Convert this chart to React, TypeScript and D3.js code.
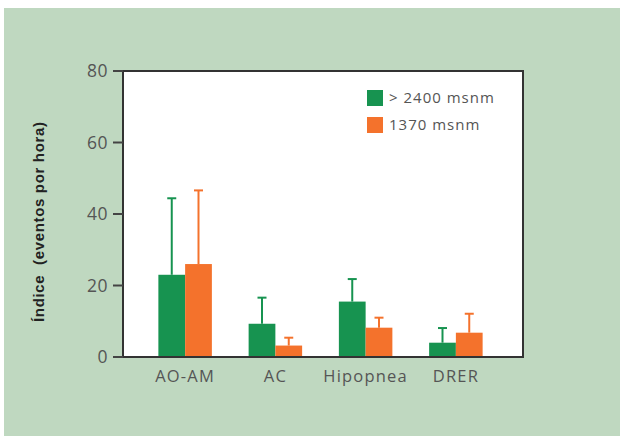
import React from "react";
import * as d3 from "d3";

const categories = ["AO-AM", "AC", "Hipopnea", "DRER"];
const series = ["> 2400 msnm", "1370 msnm"];
const colours = ["#179350", "#f4722c"];
const means = [
  [23, 9.3, 15.5, 4],
  [26, 3.2, 8.2, 6.8],
];
const upper = [
  [44.4, 16.6, 21.8, 8.1],
  [46.6, 5.4, 11.0, 12.1],
];
const yTicks = [0, 20, 40, 60, 80];

const W = 620;
const H = 436;
const plot = { left: 123, right: 523, top: 71, bottom: 357 };

export default function App() {
  const y = d3.scaleLinear().domain([0, 80]).range([plot.bottom, plot.top]);
  const x0 = d3.scaleBand().domain(categories).range([140, 501]).padding(0);
  const x1 = d3
    .scaleBand()
    .domain(series)
    .range([0, 53.5])
    .padding(0);
  const groupOffset = (x0.bandwidth() - 53.5) / 2;
  const font = "'Open Sans', 'DejaVu Sans', sans-serif";

  return (
    <svg
      width={W}
      height={H}
      style={{ position: "absolute", left: 0, top: 0, background: "#fff" }}
    >
      <rect x={4} y={8} width={W - 4} height={H - 8} fill="#bfd8c0" />
      <rect
        x={plot.left}
        y={plot.top}
        width={plot.right - plot.left}
        height={plot.bottom - plot.top}
        fill="#fff"
      />

      {series.map((s, si) =>
        categories.map((c, ci) => {
          const bx = (x0(c) as number) + groupOffset + (x1(s) as number);
          const bw = x1.bandwidth();
          const cx = bx + bw / 2;
          return (
            <g key={s + c}>
              <line
                x1={cx}
                x2={cx}
                y1={y(means[si][ci])}
                y2={y(upper[si][ci])}
                stroke={colours[si]}
                strokeWidth={2}
              />
              <line
                x1={cx - 4.5}
                x2={cx + 4.5}
                y1={y(upper[si][ci])}
                y2={y(upper[si][ci])}
                stroke={colours[si]}
                strokeWidth={2}
              />
              <rect
                x={bx}
                y={y(means[si][ci])}
                width={bw}
                height={plot.bottom - y(means[si][ci])}
                fill={colours[si]}
              />
            </g>
          );
        })
      )}

      <rect
        x={plot.left}
        y={plot.top}
        width={plot.right - plot.left}
        height={plot.bottom - plot.top}
        fill="none"
        stroke="#333"
        strokeWidth={2}
      />

      {yTicks.map((t) => (
        <g key={t}>
          <line
            x1={plot.left - 10}
            x2={plot.left}
            y1={y(t)}
            y2={y(t)}
            stroke="#444"
            strokeWidth={2}
          />
          <text
            x={plot.left - 15}
            y={y(t)}
            dy="0.36em"
            textAnchor="end"
            fontFamily={font}
            fontSize={17.5}
            letterSpacing={0.5}
            fill="#555"
          >
            {t}
          </text>
        </g>
      ))}

      {categories.map((c) => (
        <text
          key={c}
          x={(x0(c) as number) + x0.bandwidth() / 2}
          y={382}
          textAnchor="middle"
          fontFamily={font}
          fontSize={16.5}
          letterSpacing={1.2}
          fill="#555"
        >
          {c}
        </text>
      ))}

      <text
        transform={`translate(44,222) rotate(-90)`}
        textAnchor="middle"
        fontFamily="'Liberation Sans', Arial, sans-serif"
        fontWeight="bold"
        fontSize={15}
        textLength={200}
        lengthAdjust="spacing"
        fill="#222"
        style={{ whiteSpace: "pre" }}
      >
        {"Índice  (eventos por hora)"}
      </text>

      {series.map((s, i) => (
        <g key={s} transform={`translate(367,${90 + i * 27})`}>
          <rect width={16} height={16} fill={colours[i]} />
          <text
            x={22}
            y={8}
            dy="0.36em"
            fontFamily={font}
            fontSize={15}
            letterSpacing={1}
            fill="#555"
          >
            {s}
          </text>
        </g>
      ))}
    </svg>
  );
}
